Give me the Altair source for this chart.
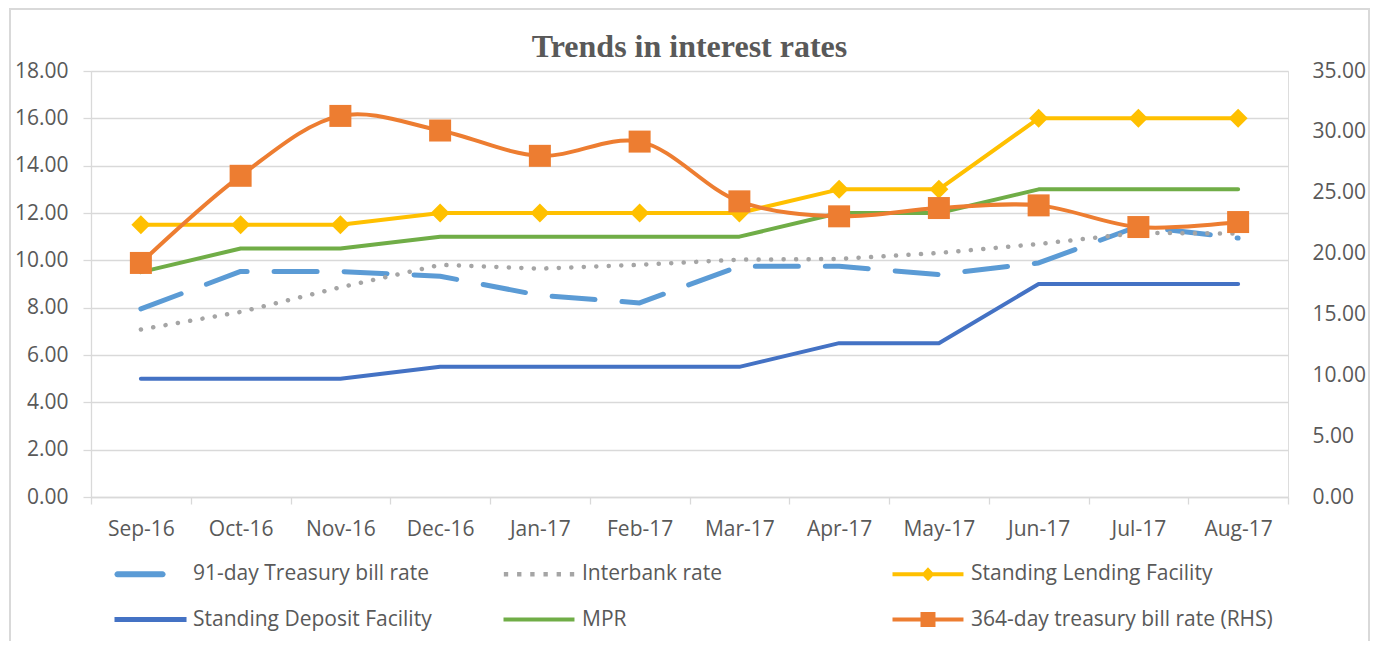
import altair as alt
import pandas as pd

# ---------------- data ----------------
months = ["Sep-16", "Oct-16", "Nov-16", "Dec-16", "Jan-17", "Feb-17",
          "Mar-17", "Apr-17", "May-17", "Jun-17", "Jul-17", "Aug-17"]

series_names = ["91-day Treasury bill rate", "Interbank rate", "Standing Lending Facility",
                "Standing Deposit Facility", "MPR", "364-day treasury bill rate (RHS)"]

tbill91 = [7.95, 9.53, 9.53, 9.33, 8.52, 8.20, 9.75, 9.75, 9.40, 9.89, 11.44, 10.94]
interbank = [7.08, 7.82, 8.86, 9.81, 9.65, 9.81, 10.03, 10.06, 10.31, 10.69, 11.16, 11.13]
slf = [11.5, 11.5, 11.5, 12.0, 12.0, 12.0, 12.0, 13.0, 13.0, 16.0, 16.0, 16.0]
sdf = [5.0, 5.0, 5.0, 5.5, 5.5, 5.5, 5.5, 6.5, 6.5, 9.0, 9.0, 9.0]
mpr = [9.5, 10.5, 10.5, 11.0, 11.0, 11.0, 11.0, 12.0, 12.0, 13.0, 13.0, 13.0]
tbill364 = [19.23, 26.39, 31.31, 30.11, 28.03, 29.20, 24.29, 23.06, 23.74, 23.96, 22.18, 22.59]

left_ticks = [0, 2, 4, 6, 8, 10, 12, 14, 16, 18]
right_ticks = [0, 5, 10, 15, 20, 25, 30, 35]

colors = ["#5B9BD5", "#A5A5A5", "#FFC000", "#4472C4", "#70AD47", "#ED7D31"]

rows = []
for name, vals in zip(series_names, [tbill91, interbank, slf, sdf, mpr, tbill364]):
    for m, v in zip(months, vals):
        rows.append({"month": m, "series": name, "value": v})
df = pd.DataFrame(rows)

# ---------------- styling ----------------
FONT = "Open Sans"
GREY = "#595959"
GRID = "#D9D9D9"

# legend symbols (custom paths, unit = 7 px)
def dots_path():
    parts = []
    for i in range(6):
        c = -1.14 + 1.886 * i
        parts.append(f"M{c-0.31:.2f},-0.31H{c+0.31:.2f}V0.31H{c-0.31:.2f}Z")
    return "".join(parts)

P_DASH = "M-1.07,-0.43H5.36A0.43,0.43 0 0 1 5.36,0.43H-1.07A0.43,0.43 0 0 1 -1.07,-0.43Z"
P_DOTS = dots_path()
P_LINE = "M-1.5,-0.29H8.64V0.29H-1.5Z"
P_SDF = "M-1.5,-0.36H8.79V0.36H-1.5Z"
P_SLF = P_LINE + "M3.57,-1L4.5,0L3.57,1L2.64,0Z"
P_364 = P_LINE + "M2.5,-1.07H4.64V1.07H2.5Z"
shape_paths = [P_DASH, P_DOTS, P_SLF, P_SDF, P_LINE, P_364]

color_of = dict(zip(series_names, colors))

x_enc = alt.X(
    "month:N",
    bandPosition=0.5,
    scale=alt.Scale(type="band", domain=months, paddingInner=0, paddingOuter=0),
    axis=alt.Axis(title=None, labelAngle=0, tickBand="extent", grid=False,
                  domain=True, domainColor=GRID, domainWidth=1.3,
                  ticks=True, tickColor=GRID, tickWidth=1.3, tickSize=7,
                  labelFont=FONT, labelFontSize=21, labelColor=GREY, labelPadding=14),
)

y_left = alt.Y(
    "value:Q",
    scale=alt.Scale(domain=[0, 18], nice=False),
    axis=alt.Axis(orient="left", title=None, values=left_ticks, format=".2f",
                  grid=True, gridColor=GRID, gridWidth=1.3,
                  domain=True, domainColor=GRID, domainWidth=1.3,
                  ticks=True, tickColor=GRID, tickWidth=1.3, tickSize=8,
                  labelFont=FONT, labelFontSize=21, labelColor=GREY, labelPadding=15),
)

y_right = alt.Y(
    "value:Q",
    scale=alt.Scale(domain=[0, 35], nice=False),
    axis=alt.Axis(orient="right", title=None, values=right_ticks, format=".2f",
                  grid=False, domain=False, ticks=False, tickSize=0,
                  labelFont=FONT, labelFontSize=21, labelColor=GREY, labelPadding=24),
)

base = alt.Chart(df)


def line_layer(name, y, **kw):
    return base.transform_filter(alt.datum.series == name).mark_line(
        strokeCap="round", strokeJoin="round", color=color_of[name], **kw
    ).encode(x=x_enc, y=y)


l91 = line_layer(series_names[0], y_left, strokeWidth=5, strokeDash=[43, 27])
lib = line_layer(series_names[1], y_left, strokeWidth=4.5, strokeDash=[0.1, 12.4])
lslf = line_layer(series_names[2], y_left, strokeWidth=4)
lsdf = line_layer(series_names[3], y_left, strokeWidth=4)
lmpr = line_layer(series_names[4], y_left, strokeWidth=4)
pslf = base.transform_filter(alt.datum.series == series_names[2]).mark_point(
    shape="diamond", filled=True, size=361, opacity=1, strokeWidth=0,
    color=color_of[series_names[2]]
).encode(x=x_enc, y=y_left)

l364 = line_layer(series_names[5], y_right, strokeWidth=4, interpolate="catmull-rom")
p364 = base.transform_filter(alt.datum.series == series_names[5]).mark_square(
    size=484, opacity=1, strokeWidth=0, color=color_of[series_names[5]]
).encode(x=x_enc, y=y_right)

legend = alt.Legend(
    title=None, orient="none", legendX=23.5, legendY=492.5, columns=3,
    direction="horizontal",
    gridAlign="all", columnPadding=8, rowPadding=23.5, padding=0,
    labelFont=FONT, labelFontSize=21, labelColor=GREY, labelLimit=600,
    labelOffset=57.5, symbolOffset=0, symbolSize=196, symbolStrokeWidth=0,
)
legend_layer = base.transform_filter("false").mark_point(
    filled=True, size=196, opacity=1, strokeWidth=0
).encode(
    color=alt.Color("series:N", scale=alt.Scale(domain=series_names, range=colors),
                    legend=legend),
    shape=alt.Shape("series:N", scale=alt.Scale(domain=series_names, range=shape_paths),
                    legend=legend),
)

frame = alt.Chart(pd.DataFrame({"f": [0]})).mark_rect(
    fillOpacity=0, stroke=GRID, strokeWidth=2
).encode(x=alt.value(-81), x2=alt.value(1278), y=alt.value(-62), y2=alt.value(700))

left = alt.layer(l91, lib, lslf, lsdf, lmpr, pslf)
right = alt.layer(l364, p364)

chart = alt.layer(frame, left, right, legend_layer).resolve_scale(
    y="independent"
).properties(
    width=1197, height=426,
    autosize=alt.AutoSizeParams(type="none"),
    padding={"left": 83, "top": 63, "right": 83, "bottom": 144},
    title=alt.TitleParams("Trends in interest rates", font="Liberation Serif", fontSize=32,
                          fontWeight="bold", color=GREY, anchor="middle", offset=-56),
).configure_view(stroke=None).configure(background="white")

chart.save("out.html", embed_options={"renderer": "svg", "actions": False})
